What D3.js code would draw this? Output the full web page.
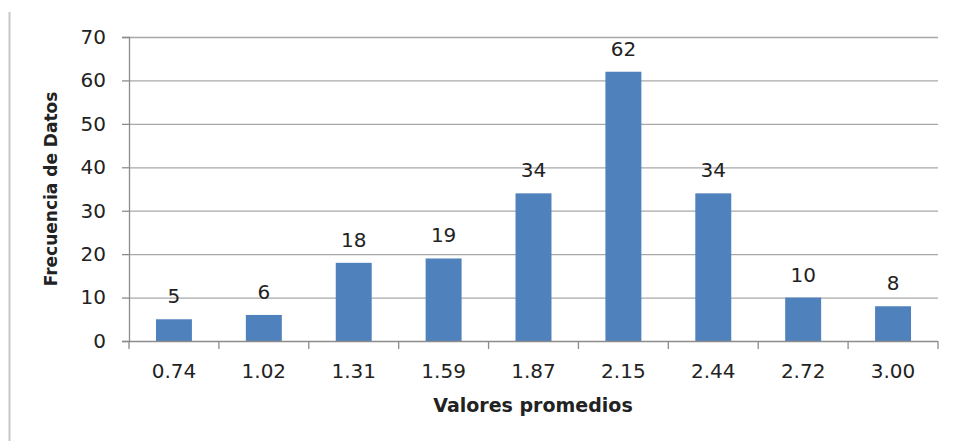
<!DOCTYPE html>
<html>
<head>
<meta charset="utf-8">
<script src="https://cdn.jsdelivr.net/npm/d3@7"></script>
<style>
  body { margin: 0; background: #fff; }
  svg { display: block; font-family: "DejaVu Sans", sans-serif; }
</style>
</head>
<body>
<svg id="chart" width="955" height="441"></svg>
<script>
// Categories (x axis) and frequencies
var categories = ["0.74", "1.02", "1.31", "1.59", "1.87", "2.15", "2.44", "2.72", "3.00"];
var frequencies = [5, 6, 18, 19, 34, 62, 34, 10, 8];
var yTicks = [0, 10, 20, 30, 40, 50, 60, 70];

var data = categories.map((c, i) => ({ cat: c, val: frequencies[i] }));

var svg = d3.select("#chart"),
    margin = { top: 37, left: 129, bottom: 100, right: 17 },
    width = +svg.attr("width"),
    height = +svg.attr("height");

// thin border line on the left of the picture
svg.append("line")
    .attr("x1", 9.5).attr("x2", 9.5)
    .attr("y1", 12).attr("y2", height)
    .attr("stroke", "#c8c8c8").attr("stroke-width", 2);

var x = d3.scaleBand()
    .domain(categories)
    .range([margin.left, width - margin.right])
    .paddingInner(0.6)
    .paddingOuter(0.3);

// band for ticks at category boundaries
var xb = d3.scaleBand()
    .domain(categories)
    .range([margin.left, width - margin.right]);

var y = d3.scaleLinear()
    .domain([0, 70])
    .range([height - margin.bottom, margin.top]);

// gridlines
svg.append("g")
    .selectAll("line")
    .data(yTicks.filter(d => d > 0))
    .join("line")
    .attr("x1", margin.left).attr("x2", width - margin.right)
    .attr("y1", d => y(d) + 0.5).attr("y2", d => y(d) + 0.5)
    .attr("stroke", "#a8a8a8").attr("stroke-width", 1.3);

// y axis
var yAxis = svg.append("g")
    .attr("transform", `translate(${margin.left},0)`)
    .call(d3.axisLeft(y).tickValues(yTicks).tickSize(7).tickPadding(16));
yAxis.select(".domain").attr("stroke", "#8c8c8c").attr("stroke-width", 1.3);
yAxis.selectAll(".tick line").attr("stroke", "#8c8c8c").attr("stroke-width", 1.3);
yAxis.selectAll("text").attr("font-size", 20).attr("fill", "#222")
    .style("font-family", "'DejaVu Sans', sans-serif");

// bars
svg.append("g")
    .selectAll("rect")
    .data(data)
    .join("rect")
    .attr("x", d => x(d.cat))
    .attr("y", d => y(d.val))
    .attr("width", x.bandwidth())
    .attr("height", d => y(0) - y(d.val))
    .attr("fill", "#4f81bd");

// value labels
svg.append("g")
    .selectAll("text")
    .data(data)
    .join("text")
    .attr("x", d => x(d.cat) + x.bandwidth() / 2)
    .attr("y", d => y(d.val) - 16)
    .attr("text-anchor", "middle")
    .attr("font-size", 20)
    .attr("fill", "#222")
    .text(d => d.val);

// x axis: ticks at category boundaries
var xAxis = svg.append("g")
    .attr("transform", `translate(0,${y(0)})`);
xAxis.append("line")
    .attr("x1", margin.left).attr("x2", width - margin.right)
    .attr("y1", 0.5).attr("y2", 0.5)
    .attr("stroke", "#8c8c8c").attr("stroke-width", 1.3);
var bounds = categories.map(c => xb(c)).concat([width - margin.right]);
xAxis.selectAll("line.tk")
    .data(bounds)
    .join("line")
    .attr("class", "tk")
    .attr("x1", d => d).attr("x2", d => d)
    .attr("y1", 0).attr("y2", 8)
    .attr("stroke", "#8c8c8c").attr("stroke-width", 1.3);
xAxis.selectAll("text")
    .data(categories)
    .join("text")
    .attr("x", d => xb(d) + xb.bandwidth() / 2)
    .attr("y", 37)
    .attr("text-anchor", "middle")
    .attr("font-size", 20)
    .attr("fill", "#222")
    .text(d => d);

// axis titles
svg.append("text")
    .attr("x", 533)
    .attr("y", 412)
    .attr("text-anchor", "middle")
    .attr("font-size", 19)
    .attr("font-weight", "bold")
    .attr("fill", "#222")
    .text("Valores promedios");

svg.append("text")
    .attr("transform", `translate(57,${(margin.top + y(0)) / 2}) rotate(-90)`)
    .attr("text-anchor", "middle")
    .attr("font-size", 17)
    .attr("font-weight", "bold")
    .attr("fill", "#222")
    .text("Frecuencia de Datos");
</script>
</body>
</html>
